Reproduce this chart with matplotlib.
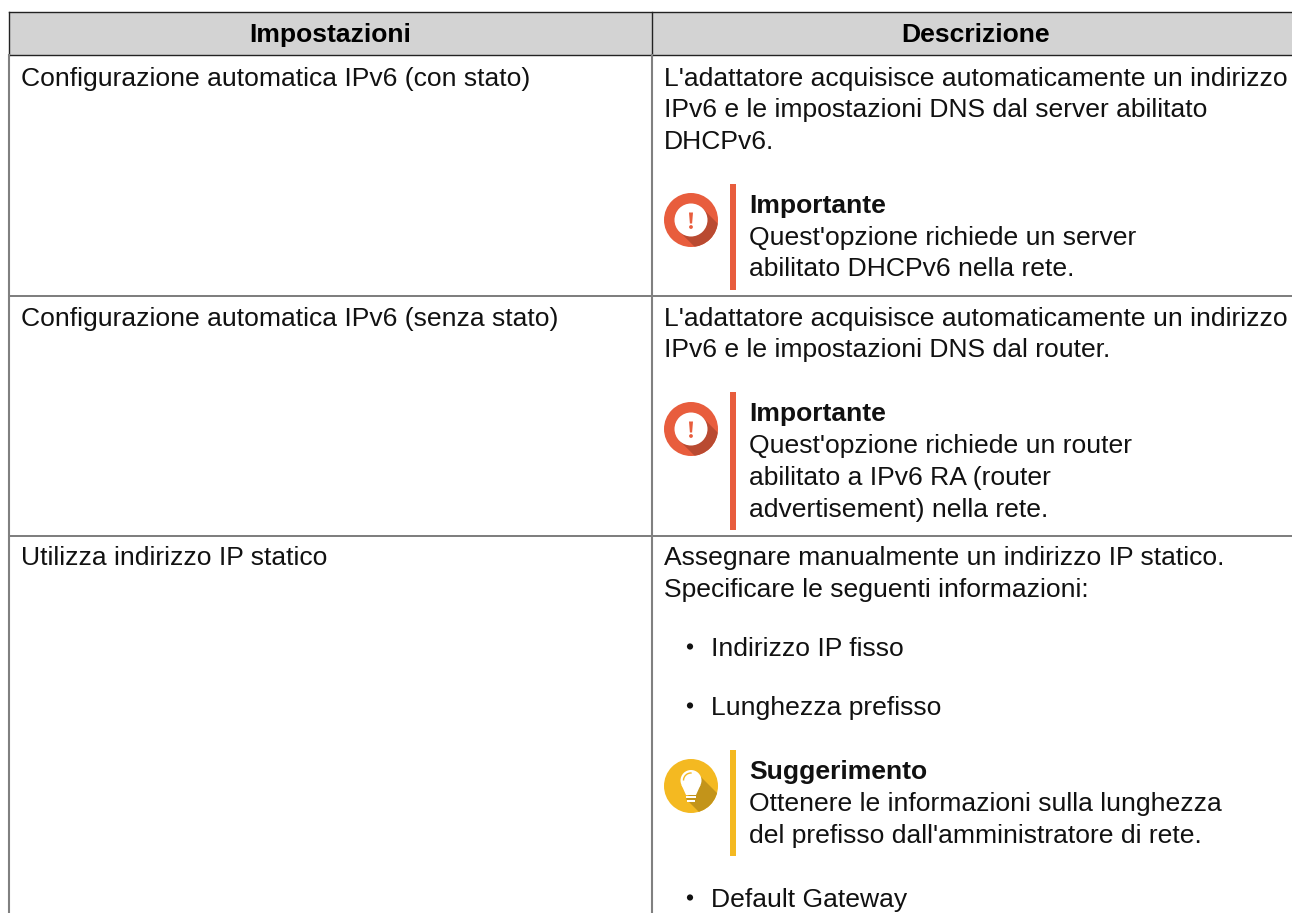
import matplotlib
matplotlib.use('Agg')
from matplotlib import pyplot as plt
from matplotlib.patches import Arc, Circle, Polygon, Rectangle

W, H = 1292, 913
FONT = 'Liberation Sans'
FS = 19.05

headers = ['Impostazioni', 'Descrizione']
settings = ['Configurazione automatica IPv6 (con stato)',
            'Configurazione automatica IPv6 (senza stato)',
            'Utilizza indirizzo IP statico']

desc_lines = [
    ("L'adattatore acquisisce automaticamente un indirizzo", 86),
    ("IPv6 e le impostazioni DNS dal server abilitato", 117),
    ("DHCPv6.", 149),
    ("L'adattatore acquisisce automaticamente un indirizzo", 326),
    ("IPv6 e le impostazioni DNS dal router.", 357),
    ("Assegnare manualmente un indirizzo IP statico.", 565),
    ("Specificare le seguenti informazioni:", 597),
]
bullets = [("Indirizzo IP fisso", 656), ("Lunghezza prefisso", 715), ("Default Gateway", 907)]
notes = [
    ('Importante', ["Quest'opzione richiede un server", "abilitato DHCPv6 nella rete."], 220, 184, 290, 'imp'),
    ('Importante', ["Quest'opzione richiede un router", "abilitato a IPv6 RA (router", "advertisement) nella rete."], 429, 392, 530.5, 'imp'),
    ('Suggerimento', ["Ottenere le informazioni sulla lunghezza", "del prefisso dall'amministratore di rete."], 786, 750, 856, 'tip'),
]
setting_base = [86, 326, 565]
row_lines = [296, 536]


def draw_icon(ax, cy, kind):
    cx, r = 691, 27
    main, dark = ('#E85D3D', '#B94A31') if kind == 'imp' else ('#F4B921', '#C3941A')
    face = Circle((cx, cy), r, fc=main, ec='none', zorder=3)
    ax.add_patch(face)
    if kind == 'imp':
        shadow = Polygon([(cx - 11.6, cy + 11.6), (cx + 11.6, cy - 11.6), (cx + 56, cy + 33), (cx + 33, cy + 56)],
                         fc=dark, ec='none', zorder=4)
    else:
        shadow = Polygon([(cx - 5, cy + 13), (cx + 10, cy - 9), (cx + 55, cy + 36), (cx + 40, cy + 58)],
                         fc=dark, ec='none', zorder=4)
    ax.add_patch(shadow)
    shadow.set_clip_path(face)
    if kind == 'imp':
        ax.add_patch(Circle((cx, cy), 16.5, fc='white', ec='none', zorder=5))
        ax.add_patch(Polygon([(cx - 2, cy - 7.5), (cx + 2, cy - 7.5), (cx + 1.1, cy + 3.5), (cx - 1.1, cy + 3.5)],
                             fc=main, ec='none', zorder=6))
        ax.add_patch(Circle((cx, cy + 7), 1.9, fc=main, ec='none', zorder=6))
    else:
        # bulb, neck and the two base lines
        ax.add_patch(Circle((cx, cy - 5.5), 10.5, fc='white', ec='none', zorder=5))
        ax.add_patch(Polygon([(cx - 9.5, cy - 1), (cx + 9.5, cy - 1), (cx + 5, cy + 9), (cx - 5, cy + 9)],
                             fc='white', ec='none', zorder=5))
        ax.add_patch(Rectangle((cx - 5, cy + 10.3), 10, 2, fc='white', ec='none', zorder=5))
        ax.add_patch(Rectangle((cx - 4, cy + 14), 8, 2.2, fc='white', ec='none', zorder=5))
        ax.add_patch(Arc((cx, cy - 5.5), 15, 15, theta1=180, theta2=275, color=main, lw=1.0, zorder=6))


fig = plt.figure(figsize=(W / 100, H / 100), dpi=100)
ax = fig.add_axes([0, 0, 1, 1])
ax.set_xlim(0, W)
ax.set_ylim(H, 0)
ax.axis('off')

# header band and grid
ax.add_patch(Rectangle((9, 12), W - 9, 43, fc='#D3D3D3', ec='none', zorder=1))
ax.plot([9, W], [12, 12], color='#222222', lw=1.0, zorder=2)
ax.plot([9, W], [55, 55], color='#222222', lw=1.0, zorder=2)
for y in row_lines:
    ax.plot([9, W], [y, y], color='#666666', lw=1.2, zorder=2)
ax.plot([9, 9], [12, 55], color='#222222', lw=1.0, zorder=2)
ax.plot([652, 652], [12, 55], color='#222222', lw=1.0, zorder=2)
ax.plot([9, 9], [55, H], color='#808080', lw=1.5, zorder=2)
ax.plot([652, 652], [55, H], color='#808080', lw=1.5, zorder=2)

ax.text(330, 42, headers[0], fontsize=FS, fontweight='bold', family=FONT, ha='center', va='baseline')
ax.text(976, 42, headers[1], fontsize=FS, fontweight='bold', family=FONT, ha='center', va='baseline')

for s, y in zip(settings, setting_base):
    ax.text(21, y, s, fontsize=FS, family=FONT, va='baseline', color='#111111')
for s, y in desc_lines:
    ax.text(664, y, s, fontsize=FS, family=FONT, va='baseline', color='#111111')
for s, y in bullets:
    ax.add_patch(Circle((690, y - 9.5), 3.1, fc='#111111', ec='none'))
    ax.text(711, y, s, fontsize=FS, family=FONT, va='baseline', color='#111111')

for title, body, cy, top, bottom, kind in notes:
    draw_icon(ax, cy, kind)
    color = '#E85D3D' if kind == 'imp' else '#F4B921'
    ax.add_patch(Rectangle((730, top), 5.5, bottom - top, fc=color, ec='none'))
    ax.text(749, top + 28.5, title, fontsize=FS, fontweight='bold', family=FONT, va='baseline', color='#111111')
    for i, line in enumerate(body):
        ax.text(749, top + 60.5 + i * 32, line, fontsize=FS, family=FONT, va='baseline', color='#111111')

fig.savefig('out.png', dpi=100)
